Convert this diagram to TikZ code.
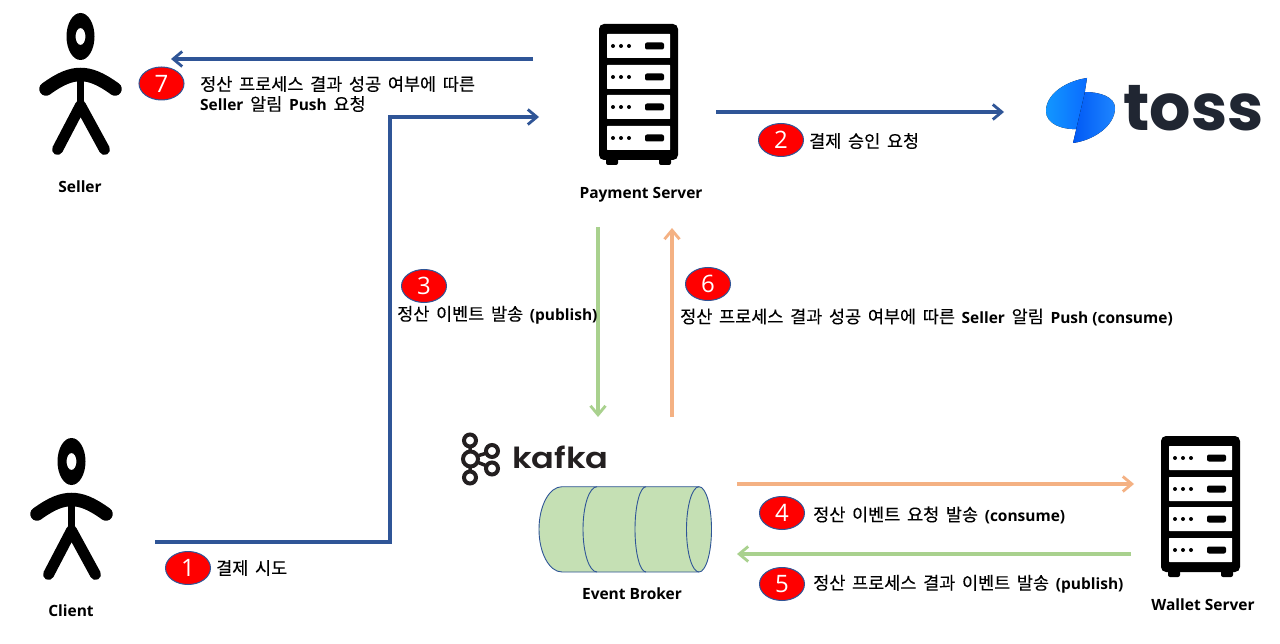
\documentclass[tikz,border=0pt]{standalone}
\usepackage{fontspec}
\setmainfont{Noto Sans CJK KR}[WordSpace=1.7,FakeBold=0.15]
\newfontfamily\latb{Open Sans}[Scale=0.885,UprightFont=* Bold]
\newfontfamily\capf{Open Sans}[UprightFont=* Bold]
\newfontfamily\logofont{Poppins}[UprightFont=* Bold]
\newfontfamily\logofontb{Poppins}[UprightFont=* SemiBold]
\newfontfamily\badgefont{Open Sans}
\usetikzlibrary{arrows.meta,positioning,shapes.geometric}
\definecolor{linkblue}{HTML}{2F5597}
\definecolor{lgreen}{HTML}{A9D18E}
\definecolor{lorange}{HTML}{F4B183}
\definecolor{cylfill}{HTML}{C5E0B4}
\definecolor{badgered}{HTML}{FF0000}
\definecolor{tossink}{HTML}{202632}
\definecolor{kafkaink}{HTML}{231F20}
\definecolor{tossa}{HTML}{1296FF}
\definecolor{tossb}{HTML}{0A6CFF}
\definecolor{tossc}{HTML}{0058F5}
\definecolor{tossd}{HTML}{1E86FF}
\newcommand{\lat}[1]{{\latb #1}}
\tikzset{
  flow/.style={line width=3.1pt,-{Straight Barb[length=9pt,width=15pt,line width=2.8pt]}},
  badge/.style={ellipse,draw=linkblue,line width=1pt,fill=badgered,minimum width=45pt,minimum height=33pt,inner sep=0pt,text=white,font=\badgefont\fontsize{24}{24}\selectfont},
  note/.style={anchor=west,inner sep=0pt,font=\fontsize{17.5}{20}\selectfont,text=black,align=left},
  caption/.style={inner sep=0pt,font=\capf\fontsize{15.5}{18}\selectfont,text=black},
  slab/.style={fill=white,rounded corners=0.5pt},
  pics/serverrack/.style={code={
    \fill[black,rounded corners=5pt] (0,0) rectangle (79,136);
    \fill[black,rounded corners=2pt] (7,130) rectangle (19,141);
    \fill[black,rounded corners=2pt] (60,130) rectangle (72,141);
    \foreach \yy in {10,41,71,102}{
      \fill[slab] (8,\yy) rectangle (71,\yy+24);
      \foreach \xx in {14,22,30}{\fill[black] (\xx,\yy+12) circle[radius=2pt];}
      \fill[black,rounded corners=2pt] (46,\yy+8.5) rectangle (65,\yy+15.5);
    }
  }},
  pics/stickfigure/.style={code={
    \fill[black,even odd rule] (0,0) ellipse[x radius=14pt,y radius=23.5pt] (0,0) ellipse[x radius=5pt,y radius=8.5pt];
    \draw[black,line width=13.5pt,line cap=round] (-34.5,52.5) .. controls (-20,42) and (-10,38) .. (0,38) .. controls (10,38) and (20,42) .. (34.5,52.5);
    \draw[black,line width=7.5pt] (0,35) -- (0,68);
    \draw[black,line width=11pt,line cap=round,line join=round] (-23,113) -- (0,69) -- (24,113);
  }}
}
\begin{document}
\begin{tikzpicture}[x=1pt,y=-1pt]
\useasboundingbox (0,0) rectangle (1280,644);
\fill[white] (0,0) rectangle (1280,644);

% actors
\pic at (80.5,36.5) {stickfigure};
\pic at (71.5,461.5) {stickfigure};
\node[caption] (sellerlabel) at (80,186.5) {Seller};
\node[caption] (clientlabel) at (71,611) {Client};

% servers
\pic at (599,24) {serverrack};
\pic at (1161,436) {serverrack};
\node[caption] (paylabel) at (641,194.5) {Payment Server};
\node[caption] (walletlabel) at (1203,605) {Wallet Server};

% toss logo
\fill[left color=tossa,right color=tossb] (1087,78) .. controls (1066,81) and (1046,94) .. (1046,111) .. controls (1046,124) and (1062,130) .. (1079,129) -- cycle;
\fill[left color=tossc,right color=tossd] (1073,143) .. controls (1095,140) and (1115,125) .. (1115,108) .. controls (1115,97) and (1100,92) .. (1085,92) -- cycle;
\node[inner sep=0pt,anchor=base west,text=tossink,font=\logofont\fontsize{65}{65}\selectfont] (tosslogo) at (1123,131) {toss};

% kafka logo
\foreach \cx/\cy/\cr in {470/440.5/6,470.5/459/7.5,470/477.5/6,492/451/6,492/468.5/6}{
  \draw[kafkaink,line width=4pt] (\cx,\cy) circle[radius=\cr pt];
}
\draw[kafkaink,line width=3.5pt] (470,446) -- (470,452) (470,466) -- (470,472) (477,456) -- (487,453) (477,462) -- (487,466);
\node[inner sep=0pt,anchor=base west,text=kafkaink,font=\logofontb\fontsize{29}{29}\selectfont] (kafkalogo) at (512,468.5) {\scalebox{1.16}[1]{kafka}};

% cylinder
\filldraw[fill=cylfill,draw=linkblue,line width=0.9pt] (562,486.7) -- (699,486.7) arc[start angle=90,end angle=-90,x radius=12.5pt,y radius=42.65pt] -- (562,572) arc[start angle=270,end angle=90,x radius=23pt,y radius=42.65pt] -- cycle;
\draw[linkblue,line width=0.9pt] (699,486.7) arc[start angle=90,end angle=270,x radius=12.5pt,y radius=42.65pt];
\draw[linkblue,line width=0.9pt] (597,486.7) arc[start angle=90,end angle=270,x radius=14pt,y radius=42.65pt];
\draw[linkblue,line width=0.9pt] (646,486.7) arc[start angle=90,end angle=270,x radius=11pt,y radius=42.65pt];
\node[caption] (brokerlabel) at (632,594) {Event Broker};

% connector ends
\coordinate (c7a) at (533,59); \coordinate (c7b) at (171,59);
\coordinate (c1a) at (155,542); \coordinate (c1k) at (390,542); \coordinate (c1l) at (390,117); \coordinate (c1b) at (539,117);
\coordinate (c2a) at (716,112); \coordinate (c2b) at (1004,112);
\coordinate (c3a) at (598,227); \coordinate (c3b) at (598,417);
\coordinate (c6a) at (672,417); \coordinate (c6b) at (672,228);
\coordinate (c4a) at (737,484); \coordinate (c4b) at (1134,484);
\coordinate (c5a) at (1131,554); \coordinate (c5b) at (737,554);

\draw[flow,linkblue] (c7a) -- (c7b);
\draw[flow,linkblue,line join=miter] (c1a) -- (c1k) -- (c1l) -- (c1b);
\draw[flow,linkblue] (c2a) -- (c2b);
\draw[flow,lgreen] (c3a) -- (c3b);
\draw[flow,lorange] (c6a) -- (c6b);
\draw[flow,lorange] (c4a) -- (c4b);
\draw[flow,lgreen] (c5a) -- (c5b);

% badges
\node[badge] (b1) at (188,568) {1};
\node[badge] (b2) at (781,140) {2};
\node[badge] (b3) at (424,286) {3};
\node[badge] (b4) at (782,513) {4};
\node[badge] (b5) at (782,584) {5};
\node[badge] (b6) at (708,284) {6};
\node[badge] (b7) at (161.5,83.5) {7};

% labels
\node[note] (t7) at (200,94) {정산 프로세스 결과 성공 여부에 따른\\\lat{Seller} 알림 \lat{Push} 요청};
\node[note] (t1) at (216,568) {결제 시도};
\node[note] (t2) at (809,141) {결제 승인 요청};
\node[note] (t3) at (397,315) {정산 이벤트 발송 \lat{(publish)}};
\node[note] (t6) at (680,317) {정산 프로세스 결과 성공 여부에 따른 \lat{Seller} 알림 \lat{Push (consume)}};
\node[note] (t4) at (813,515) {정산 이벤트 요청 발송 \lat{(consume)}};
\node[note] (t5) at (813,584) {정산 프로세스 결과 이벤트 발송 \lat{(publish)}};
\end{tikzpicture}
\end{document}
